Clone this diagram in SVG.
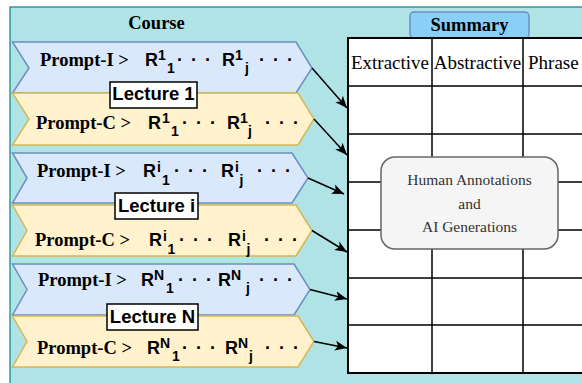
<svg xmlns="http://www.w3.org/2000/svg" width="582" height="383" viewBox="0 0 582 383">
<defs>
<style>
.bg{fill:#b0e3e6;stroke:#0e8088;stroke-width:1.2}
.blue{fill:#dae8fc;stroke:#6c8ebf;stroke-width:1.5}
.yel{fill:#fff2cc;stroke:#d6b656;stroke-width:1.5}
.tb{font-family:"Liberation Serif",serif;font-weight:bold;font-size:18.5px;fill:#000}
.tr{font-family:"Liberation Serif",serif;font-size:19px;fill:#000}
.sa{font-family:"Liberation Sans",Arial,sans-serif;font-weight:bold;font-size:18px;fill:#000}
.ss{font-family:"Liberation Sans",Arial,sans-serif;font-weight:bold;font-size:14px;fill:#000}
.dots{font-family:"Liberation Sans",Arial,sans-serif;font-weight:bold;font-size:18px;letter-spacing:1.5px;fill:#000}
.lab{fill:#fff;stroke:#000;stroke-width:1.5}
.lt{font-family:"Liberation Sans",Arial,sans-serif;font-weight:bold;font-size:18.5px;fill:#000;text-anchor:middle}
.grid{stroke:#000;stroke-width:1.5;fill:none}
.conn{stroke:#000;stroke-width:1.5;fill:none;marker-end:url(#arr)}
.ha{font-family:"Liberation Serif",serif;font-size:15.5px;fill:#333;text-anchor:middle}
</style>
<marker id="arr" markerUnits="userSpaceOnUse" markerWidth="14" markerHeight="12" refX="12" refY="5" orient="auto" viewBox="0 0 14 10">
<path d="M0,0 L12,5 L0,10 L3,5 Z" fill="#000"/>
</marker>
</defs>

<g id="course">
<rect class="bg" x="10" y="7" width="590" height="390"/>
<text class="tb" x="156.5" y="29" text-anchor="middle">Course</text>
</g>

<g id="lecture1-prompt-i">
<path class="blue" d="M12.5,42 L296,42 L312,68 L296,93 L12.5,93 L29,68 Z"/>
<text class="tb" x="40" y="65.5">Prompt-I &gt;</text>
<text class="sa" x="145" y="65.5">R</text><text class="ss" x="158" y="60">1</text><text class="ss" x="167" y="73">1</text>
<text class="dots" x="177" y="65.5">· · ·</text>
<text class="sa" x="222" y="65.5">R</text><text class="ss" x="235" y="60">1</text><text class="ss" x="245" y="73">j</text>
<text class="dots" x="259" y="65.5">· · ·</text>
</g>
<g id="lecture1-prompt-c">
<path class="yel" d="M12.5,93 L298,93 L314,119 L298,145 L12.5,145 L29,119 Z"/>
<text class="tb" x="36" y="128.5">Prompt-C &gt;</text>
<text class="sa" x="148" y="128.5">R</text><text class="ss" x="162" y="123">1</text><text class="ss" x="171" y="136">1</text>
<text class="dots" x="182" y="128.5">· · ·</text>
<text class="sa" x="227" y="128.5">R</text><text class="ss" x="240" y="123">1</text><text class="ss" x="248" y="136">j</text>
<text class="dots" x="265" y="128.5">· · ·</text>
</g>
<g id="lecture1-label">
<rect class="lab" x="110" y="82" width="87" height="26"/>
<text class="lt" x="153.5" y="100">Lecture 1</text>
</g>

<g id="lecturei-prompt-i">
<path class="blue" d="M12.5,153 L292,153 L308,178 L292,203 L12.5,203 L27,178 Z"/>
<text class="tb" x="37" y="177">Prompt-I &gt;</text>
<text class="sa" x="143" y="177">R</text><text class="ss" x="157" y="171.5">i</text><text class="ss" x="162" y="184.5">1</text>
<text class="dots" x="174" y="177">· · ·</text>
<text class="sa" x="221" y="177">R</text><text class="ss" x="235" y="171.5">i</text><text class="ss" x="239.5" y="184.5">j</text>
<text class="dots" x="257" y="177">· · ·</text>
</g>
<g id="lecturei-prompt-c">
<path class="yel" d="M12.5,205 L296,205 L312,230.5 L296,256 L12.5,256 L27,230.5 Z"/>
<text class="tb" x="35" y="246">Prompt-C &gt;</text>
<text class="sa" x="149" y="246">R</text><text class="ss" x="163" y="240.5">i</text><text class="ss" x="167.5" y="253.5">1</text>
<text class="dots" x="179" y="246">· · ·</text>
<text class="sa" x="228" y="246">R</text><text class="ss" x="242" y="240.5">i</text><text class="ss" x="246.5" y="253.5">j</text>
<text class="dots" x="264" y="246">· · ·</text>
</g>
<g id="lecturei-label">
<rect class="lab" x="115" y="193" width="83" height="26"/>
<text class="lt" x="156.5" y="211.5">Lecture i</text>
</g>

<g id="lectureN-prompt-i">
<path class="blue" d="M12.5,264 L294,264 L310,289.5 L294,315 L12.5,315 L27,289.5 Z"/>
<text class="tb" x="38" y="285.5">Prompt-I &gt;</text>
<text class="sa" x="141" y="285.5">R</text><text class="ss" x="154" y="280">N</text><text class="ss" x="166" y="293">1</text>
<text class="dots" x="178" y="285.5">· · ·</text>
<text class="sa" x="218" y="285.5">R</text><text class="ss" x="231" y="280">N</text><text class="ss" x="246" y="293">j</text>
<text class="dots" x="259" y="285.5">· · ·</text>
</g>
<g id="lectureN-prompt-c">
<path class="yel" d="M12.5,316 L298,316 L314,341.5 L298,367 L12.5,367 L27,341.5 Z"/>
<text class="tb" x="37" y="353.5">Prompt-C &gt;</text>
<text class="sa" x="147" y="353.5">R</text><text class="ss" x="160" y="348">N</text><text class="ss" x="172" y="361">1</text>
<text class="dots" x="182" y="353.5">· · ·</text>
<text class="sa" x="225" y="353.5">R</text><text class="ss" x="238" y="348">N</text><text class="ss" x="249" y="361">j</text>
<text class="dots" x="265" y="353.5">· · ·</text>
</g>
<g id="lectureN-label">
<rect class="lab" x="107" y="304" width="91" height="26"/>
<text class="lt" x="152.5" y="322.5">Lecture N</text>
</g>

<g id="summary">
<rect x="410" y="12" width="119" height="26" rx="4" fill="#89cff8" stroke="#6c8ebf" stroke-width="1.5"/>
<text class="tb" x="469.5" y="31" text-anchor="middle">Summary</text>
</g>

<g id="table">
<rect x="348" y="38" width="260" height="335" fill="#fff" stroke="#000" stroke-width="2"/>
<path class="grid" d="M432,38 V373 M523,38 V373 M348,86 H582 M348,134 H582 M348,182 H582 M348,230 H582 M348,278 H582 M348,325 H582"/>
<text class="tr" x="390" y="68.5" text-anchor="middle">Extractive</text>
<text class="tr" x="477.5" y="68.5" text-anchor="middle">Abstractive</text>
<text class="tr" x="528" y="68.5">Phrase</text>
</g>

<g id="annotations">
<rect x="381" y="157" width="177" height="92" rx="14" fill="#f5f5f5" stroke="#666" stroke-width="1.5"/>
<text class="ha" x="469.5" y="185">Human Annotations</text>
<text class="ha" x="469.5" y="208.5">and</text>
<text class="ha" x="469.5" y="232">AI Generations</text>
</g>

<g id="connectors">
<line class="conn" x1="312" y1="68" x2="347" y2="108"/>
<line class="conn" x1="314" y1="119" x2="347" y2="155"/>
<line class="conn" x1="308" y1="178" x2="344" y2="194"/>
<line class="conn" x1="312" y1="230.5" x2="347" y2="252"/>
<line class="conn" x1="310" y1="289.5" x2="347" y2="299"/>
<line class="conn" x1="314" y1="341.5" x2="347" y2="348"/>
</g>
</svg>
